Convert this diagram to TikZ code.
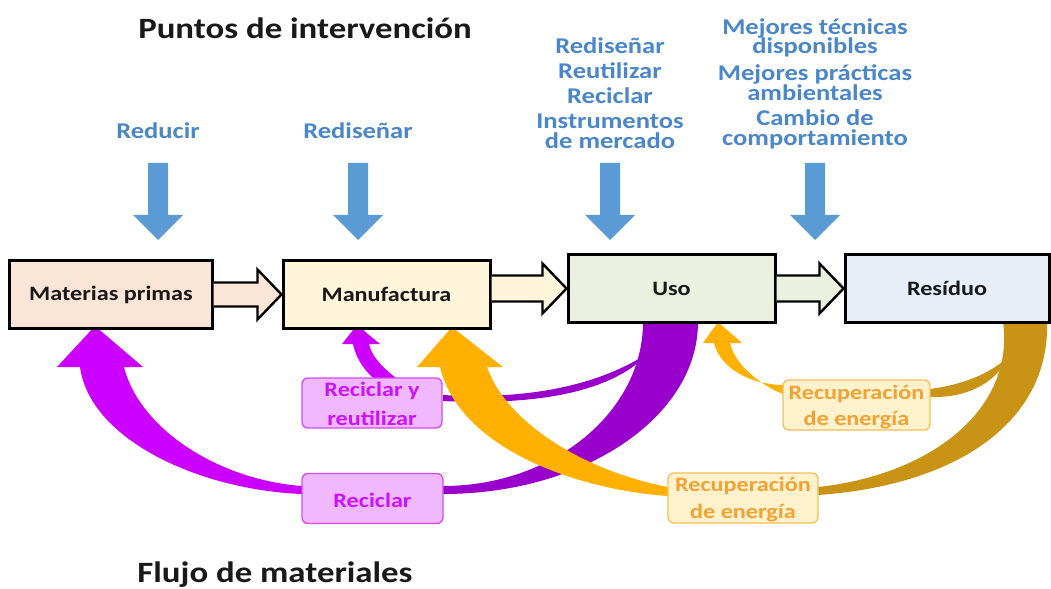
\documentclass[tikz,border=0pt]{standalone}
\usepackage{fontspec}
\setmainfont[FakeStretch=1.18]{Carlito}
\usetikzlibrary{calc}

\definecolor{bluetext}{HTML}{4A86C8}
\definecolor{bluearrow}{HTML}{5B9BD5}
\definecolor{mpfill}{HTML}{FBE5D6}
\definecolor{manfill}{HTML}{FFF5DA}
\definecolor{usofill}{HTML}{EBF1DE}
\definecolor{resfill}{HTML}{E8EEF8}
\definecolor{recpurple}{HTML}{9A00CC}
\definecolor{recmagenta}{HTML}{CC00FF}
\definecolor{recorange}{HTML}{FFB000}
\definecolor{recgold}{HTML}{C99416}
\definecolor{lilafill}{HTML}{F0B8FF}
\definecolor{liladraw}{HTML}{D34BF0}
\definecolor{lilatext}{HTML}{CC11FF}
\definecolor{ocrefill}{HTML}{FFF2CC}
\definecolor{ocredraw}{HTML}{F7BE5A}
\definecolor{ocretext}{HTML}{F2A233}

\begin{document}
\begin{tikzpicture}[x=1bp,y=-1bp,
  stage/.style={draw=black,line width=3bp,minimum height=67bp,inner sep=0pt,
    font=\fontsize{20.5bp}{24bp}\selectfont\bfseries,text=black!90},
  flowarrow/.style={draw=black,line width=2.4bp,line join=miter},
  heading/.style={anchor=base,inner sep=0pt,font=\fontsize{29.5bp}{34bp}\selectfont\bfseries,text=black!90},
  action/.style={inner sep=0pt,align=center,text=bluetext,
    font=\fontsize{22.5bp}{25bp}\selectfont\bfseries},
  labelbox/.style={rounded corners=6bp,line width=1.3bp,minimum width=141bp,minimum height=50bp,inner sep=0pt},
  labeltext/.style={inner sep=0pt,align=center,font=\fontsize{20.5bp}{#1}\selectfont\bfseries},
  labeltext/.default=28bp]
\useasboundingbox (0,0) rectangle (1051,589);

% titles
\node[name=tpi,heading] at (305,39) {Puntos de intervención};
\node[name=tfm,heading] at (275,582) {Flujo de materiales};

% intervention points
\node[name=ired,action,anchor=base] at (158,139) {Reducir};
\node[name=iman,action,anchor=base] at (358,139) {Rediseñar};
\node[name=iuso,action] at (610,93) {Rediseñar\\Reutilizar\\Reciclar\\Instrumentos\\[-5bp]de mercado};
\node[name=ires,action] at (815,84) {Mejores técnicas\\[-6bp]disponibles\\[2bp]Mejores prácticas\\[-5bp]ambientales\\Cambio de\\[-5bp]comportamiento};

\foreach \x in {158,358,610,815}
  \fill[bluearrow] (\x-10,163) -- (\x+10,163) -- (\x+10,215) -- (\x+25,215) -- (\x,240)
    -- (\x-25,215) -- (\x-10,215) -- cycle;

% recycling flows
\fill[recpurple] (698,322) .. controls (698,417) and (584,494) .. (443,494) -- (443,486)
  .. controls (553,486) and (643,412) .. (643,322) -- cycle;
\fill[recpurple] (443,395) .. controls (530,400) and (600,385) .. (650,352)
  .. controls (610,395) and (530,405) .. (443,401) -- cycle;
\fill[recmagenta] (302,494) .. controls (200,490) and (90,440) .. (80,367) -- (57,367) -- (95,326)
  -- (143,367) -- (124,367) .. controls (140,430) and (220,480) .. (302,486) -- cycle;
\fill[recmagenta] (405,385) .. controls (385,370) and (372,358) .. (369,344) -- (380,344) -- (357,325)
  -- (342,344) -- (353,344) .. controls (357,364) and (372,380) .. (390,390) -- cycle;

% energy recovery flows
\fill[recgold] (1047,322) .. controls (1050,420) and (960,485) .. (818,495) -- (818,487)
  .. controls (930,475) and (1015,410) .. (1003,322) -- cycle;
\fill[recgold] (930,389) .. controls (960,385) and (990,375) .. (1010,355)
  .. controls (995,385) and (965,398) .. (930,397) -- cycle;
\fill[recorange] (668,496) .. controls (580,490) and (460,450) .. (440,367) -- (417,367) -- (452,327)
  -- (503,367) -- (487,367) .. controls (505,420) and (580,470) .. (668,487) -- cycle;
\fill[recorange] (785,395) .. controls (760,385) and (735,365) .. (730,343) -- (742,343) -- (718,322)
  -- (703,343) -- (714,343) .. controls (720,368) and (750,385) .. (785,385) -- cycle;

% material flow
\node[name=mp,stage,fill=mpfill,minimum width=202bp] at (111,294.5) {Materias primas};
\node[name=man,stage,fill=manfill,minimum width=207bp] at (386.5,294.5) {Manufactura};
\node[name=uso,stage,fill=usofill,minimum width=207bp] at (671.5,288.5) {Uso};
\node[name=res,stage,fill=resfill,minimum width=204bp] at (947,288.5) {Resíduo};

\draw[flowarrow,fill=mpfill] let \p1=(mp.east), \p2=(man.west) in
  (\x1,\y2+12bp) -- (\x2-24bp,\y2+12bp) -- (\x2-24bp,\y2+25bp) -- (\x2,\y2)
  -- (\x2-24bp,\y2-25bp) -- (\x2-24bp,\y2-12bp) -- (\x1,\y2-12bp);
\draw[flowarrow,fill=manfill] let \p1=(man.east), \p2=(uso.west) in
  (\x1,\y2+13bp) -- (\x2-24bp,\y2+13bp) -- (\x2-24bp,\y2+25bp) -- (\x2,\y2)
  -- (\x2-24bp,\y2-25bp) -- (\x2-24bp,\y2-13bp) -- (\x1,\y2-13bp);
\draw[flowarrow,fill=usofill] let \p1=(uso.east), \p2=(res.west) in
  (\x1,\y2+13bp) -- (\x2-24bp,\y2+13bp) -- (\x2-24bp,\y2+25bp) -- (\x2,\y2)
  -- (\x2-24bp,\y2-25bp) -- (\x2-24bp,\y2-13bp) -- (\x1,\y2-13bp);

% labels
\node[name=lrr,labelbox,fill=lilafill,draw=liladraw,minimum width=140bp] at (372,403) {};
\node[name=lrec,labelbox,fill=lilafill,draw=liladraw] at (372.5,498.5) {};
\node[name=le1,labelbox,fill=ocrefill,draw=ocredraw,minimum width=147bp] at (856.5,405) {};
\node[name=le2,labelbox,fill=ocrefill,draw=ocredraw,minimum width=150bp] at (743,498) {};
\node[labeltext=29bp,text=lilatext] at (372,404) {Reciclar y\\reutilizar};
\node[labeltext,text=lilatext,anchor=base] at (372.5,507) {Reciclar};
\node[labeltext=26bp,text=ocretext] at (856.5,407) {Recuperación\\de energía};
\node[labeltext=27bp,text=ocretext] at (743,500) {Recuperación\\de energía};
\end{tikzpicture}
\end{document}
